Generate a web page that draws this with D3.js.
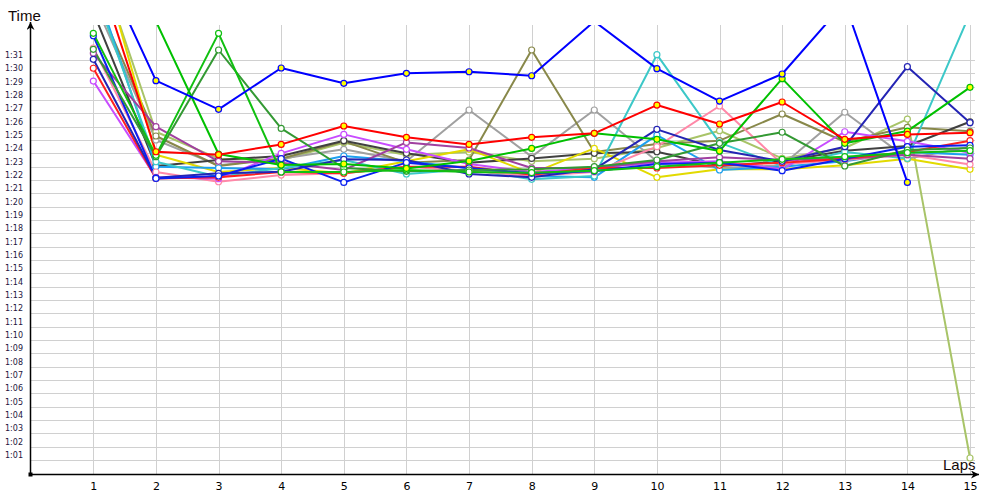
<!DOCTYPE html>
<html><head><meta charset="utf-8">
<script src="https://cdn.jsdelivr.net/npm/d3@7"></script>
<style>body{margin:0;background:#fff;} svg{display:block;}</style>
</head><body>
<svg id="chart" width="1000" height="500"></svg>
<script>
// ---- data ----
const laps = [1,2,3,4,5,6,7,8,9,10,11,12,13,14,15];
const yTickLabels = ["1:01","1:02","1:03","1:04","1:05","1:06","1:07","1:08","1:09","1:10",
  "1:11","1:12","1:13","1:14","1:15","1:16","1:17","1:18","1:19","1:20",
  "1:21","1:22","1:23","1:24","1:25","1:26","1:27","1:28","1:29","1:30","1:31"];
// lap times in seconds
const blueLeader   = [99.6, 89.45, 87.3, 90.4, 89.25, 90.0, 90.12, 89.82, 93.9, 90.35, 87.92, 89.95, 95.3, 81.82, null];
const redYellow    = [98.6, 84.12, 83.9, 84.67, 86.05, 85.2, 84.67, 85.2, 85.5, 87.62, 86.2, 87.85, 85.05, 85.42, 85.55];
const greenYellow  = [97.0, 93.9, 83.95, 83.12, 83.2, 82.87, 83.42, 84.37, 85.5, 85.05, 84.17, 89.6, 84.75, 85.67, 88.95];
const green        = [93.0, 83.85, 93.0, 82.6, 82.6, 82.75, 82.6, 82.55, 82.7, 83.0, 83.3, 83.55, 83.75, 84.05, 84.2];
const darkGreen    = [91.8, 83.75, 91.75, 85.87, 82.9, 82.65, 82.75, 82.8, 83.0, 83.5, 84.75, 85.58, 83.05, 84.25, 84.4];
const blue         = [92.82, 82.12, 82.3, 83.6, 81.82, 83.3, 82.9, 82.5, 82.65, 83.2, 83.3, 82.7, 83.6, 84.5, 84.6];
const indigo       = [91.05, 82.17, 82.5, 82.62, 83.55, 83.5, 82.45, 82.2, 82.8, 85.8, 84.25, 83.4, 84.5, 90.5, 86.3];
const purple       = [91.5, 86.0, 83.4, 83.3, 82.75, 84.82, 84.4, 82.9, 82.9, 83.4, 83.7, 83.5, 83.6, 83.9, 83.6];
const violet       = [89.42, 82.2, 82.1, 84.0, 85.42, 84.3, 83.2, 82.6, 82.9, 83.3, 83.4, 82.8, 85.62, 84.9, 84.05];
const pink         = [91.9, 82.6, 81.87, 82.37, 82.5, 83.0, 82.7, 82.3, 82.6, 84.5, 87.55, 83.2, 83.5, 83.9, 83.17];
const cyan         = [96.5, 83.37, 82.25, 82.9, 83.5, 82.45, 82.8, 82.05, 82.3, 91.4, 84.8, 83.05, 84.1, 83.62, 94.5];
const lightBlue    = [97.0, 83.0, 82.9, 82.8, 83.8, 83.4, 82.9, 82.3, 82.2, 85.37, 82.75, 83.0, 83.4, 84.1, 83.9];
const yellow       = [100.5, 83.9, 82.6, 82.9, 82.5, 83.4, 84.3, 82.5, 84.37, 82.2, 82.8, 82.8, 83.1, 83.6, 82.8];
const olive        = [96.0, 85.3, 83.05, 83.6, 84.9, 83.3, 83.5, 91.75, 84.1, 84.7, 84.95, 86.95, 84.87, 85.95, 85.65];
const gray         = [95.5, 85.0, 83.1, 83.6, 84.3, 83.4, 87.25, 83.75, 87.25, 83.4, 82.9, 83.1, 87.08, 83.6, 84.5];
const darkGray     = [94.6, 83.05, 83.5, 83.8, 84.95, 84.0, 83.3, 83.62, 84.0, 84.12, 83.05, 83.4, 84.2, 84.55, 86.37];
const lightOlive   = [99.5, 85.62, 83.6, 83.5, 84.8, 83.87, 84.1, 83.4, 83.6, 84.4, 85.7, 83.62, 84.4, 86.57, 61.15];
const red          = [90.38, 82.12, 82.2, 82.6, 82.5, 83.0, 83.0, 82.4, 82.9, 82.9, 83.1, 83.3, 83.6, 84.1, 84.95];

const series = [
  {values: lightOlive, color: "#a8c468", fill: "#fff"},
  {values: gray,       color: "#a0a0a0", fill: "#fff"},
  {values: olive,      color: "#88884a", fill: "#fff"},
  {values: darkGray,   color: "#404040", fill: "#fff"},
  {values: yellow,     color: "#e2da00", fill: "#fff"},
  {values: lightBlue,  color: "#1ea0f0", fill: "#fff"},
  {values: cyan,       color: "#3cc8c8", fill: "#fff"},
  {values: pink,       color: "#ff88a8", fill: "#fff"},
  {values: violet,     color: "#c84cff", fill: "#fff"},
  {values: purple,     color: "#a040a0", fill: "#fff"},
  {values: red,        color: "#ff2020", fill: "#fff"},
  {values: indigo,     color: "#2424b4", fill: "#fff"},
  {values: blue,       color: "#0a20f0", fill: "#fff"},
  {values: darkGreen,  color: "#339933", fill: "#fff"},
  {values: green,      color: "#10c010", fill: "#fff"},
  {values: greenYellow,color: "#00c000", fill: "#ffff00"},
  {values: redYellow,  color: "#ff0000", fill: "#ffff00"},
  {values: blueLeader, color: "#0000ff", fill: "#ffff00"}
];

// ---- chart ----
const svg = d3.select("#chart");
const x = d3.scaleLinear().domain([0, 15]).range([30.7, 970]);
const y = d3.scaleLinear().domain([60, 91]).range([473.33, 60]);
const parseT = s => { const [m, ss] = s.split(":"); return (+m) * 60 + (+ss); };
const yTickValues = yTickLabels.map(parseT);
const labelOf = d3.scaleOrdinal().domain(yTickValues).range(yTickLabels);

const defs = svg.append("defs");
defs.append("clipPath").attr("id", "plotClip")
  .append("rect").attr("x", 30).attr("y", 25).attr("width", 946).attr("height", 450);
defs.append("marker").attr("id", "arrowUp").attr("viewBox", "0 0 10 10")
  .attr("refX", 5).attr("refY", 0).attr("markerWidth", 8).attr("markerHeight", 11)
  .attr("markerUnits", "userSpaceOnUse").attr("orient", "0")
  .append("path").attr("d", "M0,10 L5,0 L10,10 L5,7 Z").attr("fill", "#000");
defs.append("marker").attr("id", "arrowRight").attr("viewBox", "0 0 10 10")
  .attr("refX", 10).attr("refY", 5).attr("markerWidth", 13).attr("markerHeight", 8)
  .attr("markerUnits", "userSpaceOnUse").attr("orient", "0")
  .append("path").attr("d", "M0,0 L10,5 L0,10 L3,5 Z").attr("fill", "#000");

// grid
const grid = svg.append("g").attr("stroke", "#d0d0d0").attr("stroke-width", 1).attr("shape-rendering", "crispEdges");
grid.selectAll("line.h").data(yTickValues).join("line").attr("class", "h")
  .attr("x1", 30).attr("x2", 975).attr("y1", d => Math.round(y(d)) + 0.5).attr("y2", d => Math.round(y(d)) + 0.5);
grid.selectAll("line.v").data(laps).join("line").attr("class", "v")
  .attr("x1", d => Math.round(x(d)) + 0.5).attr("x2", d => Math.round(x(d)) + 0.5).attr("y1", 25).attr("y2", 475);

// y axis labels
const yAxis = svg.append("g").attr("transform", "translate(23,0)")
  .call(d3.axisLeft(y).tickValues(yTickValues).tickFormat(d => labelOf(d)).tickSize(0).tickPadding(0));
yAxis.select(".domain").remove();
yAxis.selectAll("text").attr("y", -5).attr("font-family", "DejaVu Sans").attr("font-size", 8).attr("fill", "#24143c");

// x axis labels
const xAxis = svg.append("g").attr("transform", "translate(0,474.5)")
  .call(d3.axisBottom(x).tickValues(laps).tickFormat(d3.format("d")).tickSize(0).tickPadding(8));
xAxis.select(".domain").remove();
xAxis.selectAll("text").attr("font-family", "DejaVu Sans").attr("font-size", 11).attr("fill", "#000");

// series lines
const line = d3.line().defined(d => d != null).x((d, i) => x(laps[i])).y(d => y(d));
const plot = svg.append("g").attr("clip-path", "url(#plotClip)");
plot.selectAll("path.series").data(series).join("path").attr("class", "series")
  .attr("d", s => line(s.values)).attr("fill", "none")
  .attr("stroke", s => s.color).attr("stroke-width", 2).attr("stroke-linejoin", "round");

// markers
series.forEach(s => {
  plot.append("g").selectAll("circle")
    .data(s.values.map((v, i) => ({v, lap: laps[i]})).filter(d => d.v != null))
    .join("circle")
    .attr("cx", d => x(d.lap)).attr("cy", d => y(d.v)).attr("r", 3)
    .attr("fill", s.fill).attr("stroke", s.color).attr("stroke-width", 1.2);
});

// axes lines with arrows
svg.append("line").attr("x1", 30.5).attr("x2", 30.5).attr("y1", 475).attr("y2", 22)
  .attr("stroke", "#000").attr("stroke-width", 1.5).attr("marker-end", "url(#arrowUp)");
svg.append("line").attr("x1", 30).attr("x2", 979).attr("y1", 474.5).attr("y2", 474.5)
  .attr("stroke", "#000").attr("stroke-width", 1.5).attr("marker-end", "url(#arrowRight)");
svg.append("rect").attr("x", 28.5).attr("y", 472.5).attr("width", 4).attr("height", 4).attr("fill", "#000");

// axis titles
svg.append("text").attr("x", 8).attr("y", 20.5).attr("font-family", "Liberation Sans").attr("font-size", 15)
  .attr("fill", "#140808").text("Time");
svg.append("text").attr("x", 943).attr("y", 470).attr("font-family", "Liberation Sans").attr("font-size", 15)
  .attr("fill", "#140808").text("Laps");
</script>
</body></html>
